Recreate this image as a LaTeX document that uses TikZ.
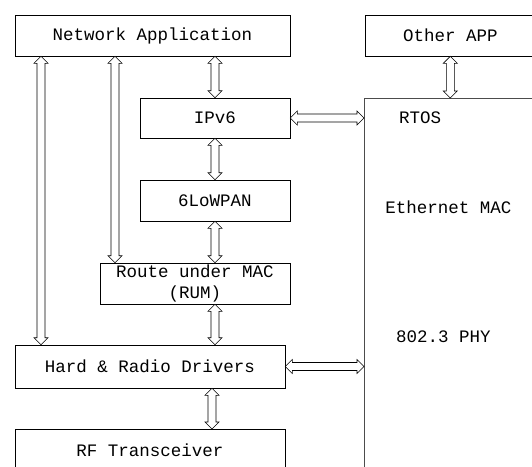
\documentclass[tikz,border=0pt]{standalone}
\usepackage{fontspec}
\setmonofont{Liberation Mono}
\usetikzlibrary{calc}
\tikzstyle{layer}=[draw, line width=0.6pt, inner sep=0pt, align=center, font=\ttfamily\fontsize{17.5}{21}\selectfont]
\tikzstyle{hollow}=[draw, line width=0.6pt, fill=white, line join=miter]
\tikzstyle{rtostext}=[font=\ttfamily\fontsize{17.5}{21}\selectfont]
\newcommand{\hollowarrow}[2]{
	\coordinate (hs) at (#1);
	\coordinate (ht) at (#2);
	\coordinate (ha) at ($(hs)!7pt!(ht)$); % base of the head at the start
	\coordinate (hb) at ($(ht)!7pt!(hs)$); % base of the head at the end
	\draw[hollow] (hs) -- ($(ha)!7pt!90:(ht)$) -- ($(ha)!4pt!90:(ht)$) -- ($(hb)!4pt!-90:(hs)$)
		-- ($(hb)!7pt!-90:(hs)$) -- (ht) -- ($(hb)!7pt!90:(hs)$) -- ($(hb)!4pt!90:(hs)$)
		-- ($(ha)!4pt!-90:(ht)$) -- ($(ha)!7pt!-90:(ht)$) -- cycle;
}

\begin{document}
\begin{tikzpicture}[x=1pt, y=-1pt]
	\useasboundingbox (0,0) rectangle (532,466);
	\clip (0,0) rectangle (532,466);
	% left stack
	\node[layer, minimum width=275pt, minimum height=41pt] (netapp) at (152.5,35.5) {Network Application};
	\node[layer, minimum width=150pt, minimum height=40pt] (ipv6) at (215,118) {IPv6};
	\node[layer, minimum width=150pt, minimum height=41pt] (lowpan) at (215,200.5) {6LoWPAN};
	\node[layer, minimum width=190pt, minimum height=41pt] (rum) at (195,283.5) {Route under MAC\\(RUM)};
	\node[layer, minimum width=270pt, minimum height=43pt] (hrd) at (150,366.5) {Hard \& Radio Drivers};
	\node[layer, minimum width=270pt, minimum height=60pt, anchor=north] (rf) at (150,429) {};
	\node[rtostext] (rftext) at (150,450) {RF Transceiver};
	% right side
	\node[layer, minimum width=170pt, minimum height=41pt, anchor=west] (otherapp) at (365,35.5) {Other APP};
	\node[draw=gray!60!black, line width=1.2pt, minimum width=220pt, minimum height=420pt, anchor=north west] (rtos) at (364,98) {};
	\node[rtostext] (rtoslbl) at (420,118) {RTOS};
	\node[rtostext] (ethmac) at (448.5,207) {Ethernet MAC};
	\node[rtostext] (phy) at (443.5,337) {802.3 PHY};
	% arrows
	\coordinate (c1) at (41,0);
	\coordinate (c2) at (115,0);
	\coordinate (c3) at (212,0);
	\hollowarrow{netapp.south -| c1}{hrd.north -| c1}
	\hollowarrow{netapp.south -| c2}{rum.north -| c2}
	\hollowarrow{netapp.south -| ipv6.north}{ipv6.north}
	\hollowarrow{otherapp.south}{otherapp.south |- rtos.north}
	\hollowarrow{ipv6.east}{ipv6.east -| rtos.west}
	\hollowarrow{ipv6.south}{lowpan.north}
	\hollowarrow{lowpan.south}{lowpan.south |- rum.north}
	\hollowarrow{rum.south -| lowpan.south}{hrd.north -| lowpan.south}
	\hollowarrow{hrd.east}{hrd.east -| rtos.west}
	\hollowarrow{hrd.south -| c3}{rf.north -| c3}
\end{tikzpicture}
\end{document}
